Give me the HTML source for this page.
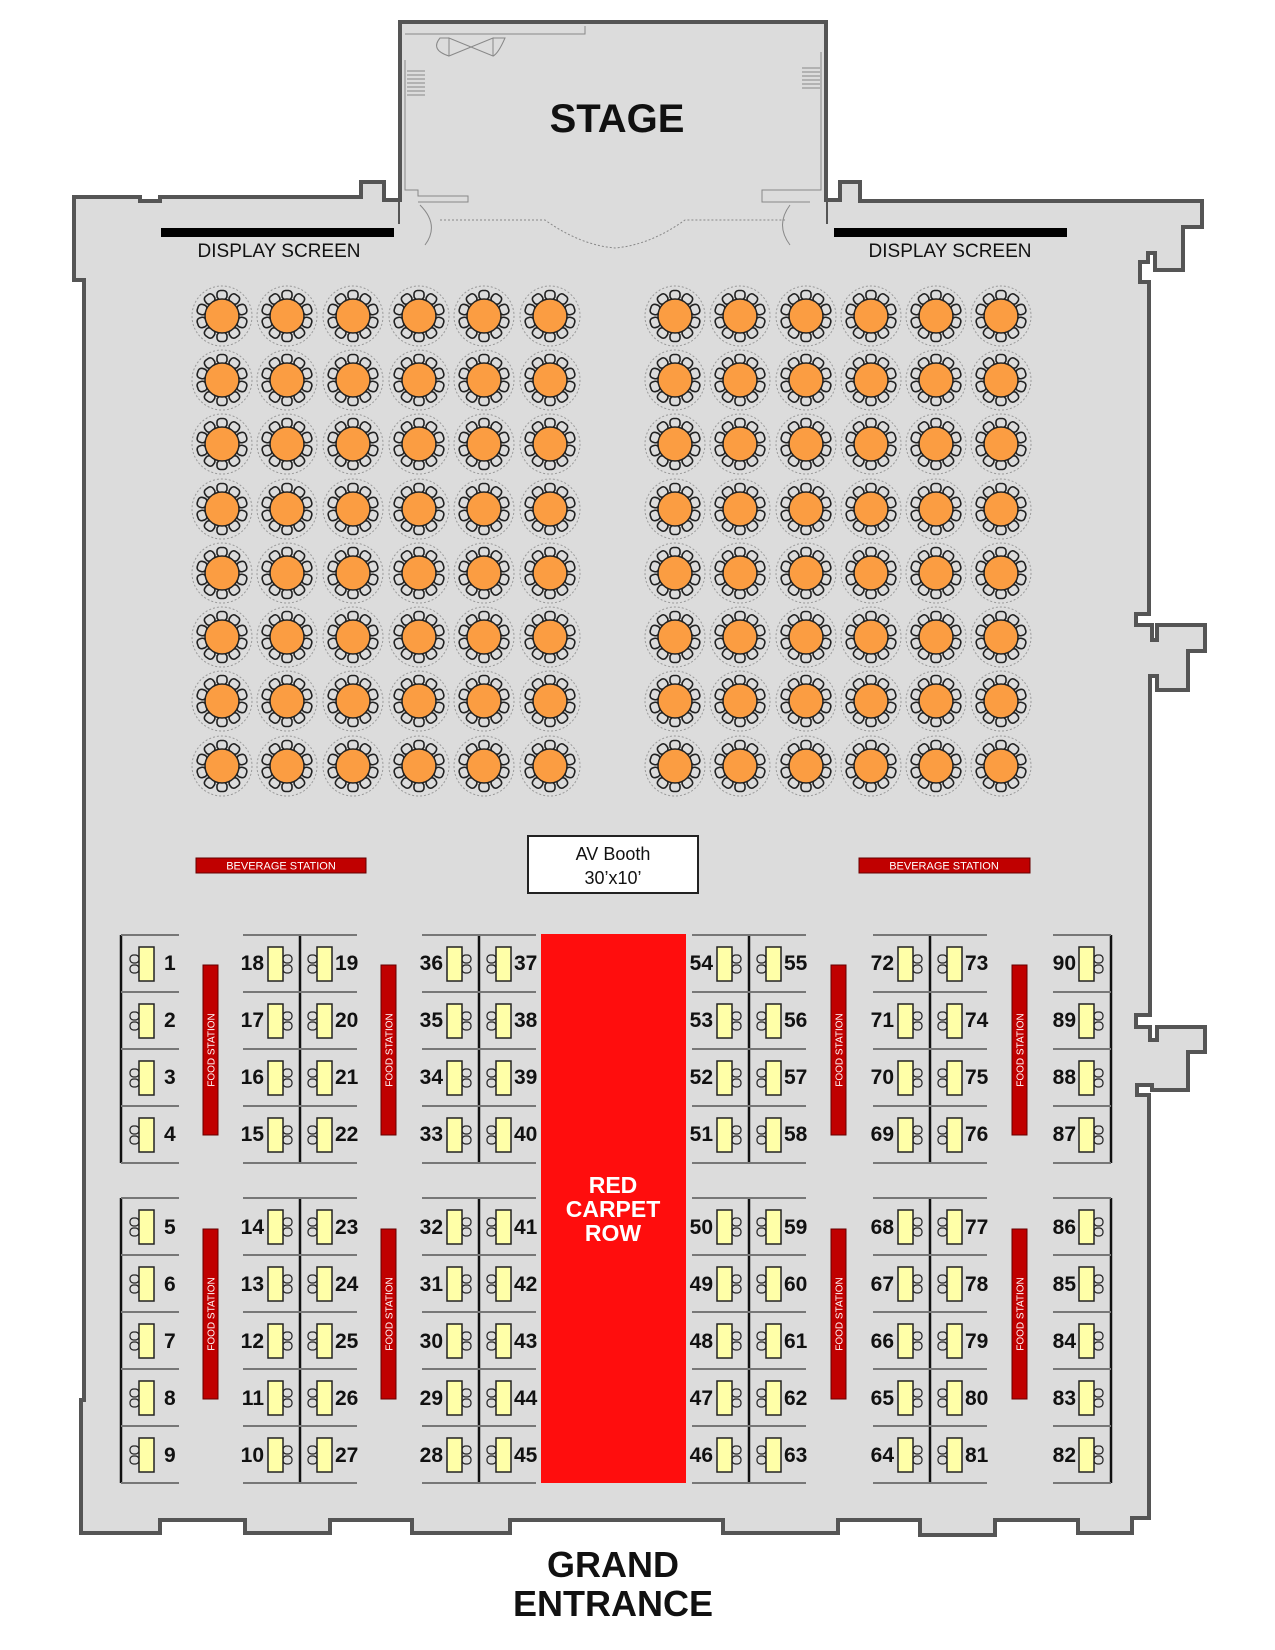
<!DOCTYPE html>
<html><head><meta charset="utf-8"><style>
html,body{margin:0;padding:0;background:#fff;width:1275px;height:1650px;overflow:hidden}
svg{display:block}
text{font-family:"Liberation Sans",sans-serif}
.n{font-size:21px;font-weight:bold;fill:#111}
.fs{font-size:10px;fill:#fff}
</style></head><body>
<svg id="s" width="1275" height="1650" viewBox="0 0 1275 1650" xmlns="http://www.w3.org/2000/svg">
<!-- hall -->
<path d="M74,197 L140,197 L140,201 L160,201 L160,197 L361,197 L361,182 L384,182 L384,200 L400,200 L400,222 L826,222 L826,200 L840,200 L840,182 L860,182 L860,201 L1148,201 L1148,201 L1202,201 L1202,227 L1183,227 L1183,270 L1155,270 L1155,253 L1148,253 L1148,262 L1140,262 L1140,282 L1149,282 L1149,614 L1136,614 L1136,625 L1152,625 L1152,640 L1157,640 L1157,625 L1205,625 L1205,651 L1188,651 L1188,690 L1157,690 L1157,676 L1150,676 L1150,1015 L1136,1015 L1136,1027 L1150,1027 L1150,1040 L1157,1040 L1157,1027 L1205,1027 L1205,1052 L1188,1052 L1188,1090 L1152,1090 L1152,1085 L1137,1085 L1137,1095 L1149,1095 L1149,1518 L1132,1518 L1132,1533 L1078,1533 L1078,1520 L995,1520 L995,1535 L920,1535 L920,1520 L838,1520 L838,1533 L723,1533 L723,1520 L510,1520 L510,1533 L412,1533 L412,1520 L330,1520 L330,1533 L245,1533 L245,1520 L160,1520 L160,1533 L81,1533 L81,1400 L84,1400 L84,280 L74,280 Z" fill="#dcdcdc" stroke="#555" stroke-width="4" stroke-linejoin="miter"/>
<!-- stage -->
<rect x="400" y="22" width="426" height="202" fill="#dcdcdc"/>
<path d="M400,202 L400,22 L826,22 L826,202" fill="none" stroke="#555" stroke-width="4"/>
<!-- stage details -->
<g fill="none" stroke="#888" stroke-width="1">
<path d="M405,34 L585,34 L585,26 M405,60 L405,190 L418,190 L418,196 L468,196 L468,202 L418,202"/>
<path d="M821,52 L821,190 L810,190 L762,190 L762,202 L810,202"/>
<path d="M449,56 L493,38 L493,56 L449,38 Z M449,56 Q430,50 440,38 L449,38 M493,38 L505,38 Q498,54 493,56"/>
<path d="M407,71 L425,71 M407,75 L425,75 M407,79 L425,79 M407,83 L425,83 M407,87 L425,87 M407,91 L425,91 M407,95 L425,95"/>
<path d="M802,68 L820,68 M802,72 L820,72 M802,76 L820,76 M802,80 L820,80 M802,84 L820,84 M802,88 L820,88"/>
<path stroke-dasharray="2,2" d="M440,220 L545,220 Q580,245 615,248 Q650,245 685,220 L785,220"/>
<path d="M420,205 Q440,225 425,245 M790,205 Q775,225 790,245"/>
</g>
<!-- screens -->
<rect x="161" y="228" width="233" height="9" fill="#000"/>
<rect x="834" y="228" width="233" height="9" fill="#000"/>
<text x="279" y="257" font-size="19" text-anchor="middle" fill="#111">DISPLAY SCREEN</text>
<text x="950" y="257" font-size="19" text-anchor="middle" fill="#111">DISPLAY SCREEN</text>
<text x="617" y="132" font-size="40" font-weight="bold" text-anchor="middle" fill="#111">STAGE</text>
<!-- beverage -->
<rect x="196" y="858" width="170" height="15" fill="#c00000" stroke="#600" stroke-width="1"/>
<rect x="859" y="858" width="171" height="15" fill="#c00000" stroke="#600" stroke-width="1"/>
<text x="281" y="869.5" font-size="11" text-anchor="middle" fill="#fff">BEVERAGE STATION</text>
<text x="944" y="869.5" font-size="11" text-anchor="middle" fill="#fff">BEVERAGE STATION</text>
<!-- AV -->
<rect x="528" y="836" width="170" height="57" fill="#fff" stroke="#222" stroke-width="2"/>
<text x="613" y="860" font-size="18" text-anchor="middle" fill="#111">AV Booth</text>
<text x="613" y="884" font-size="18" text-anchor="middle" fill="#111">30’x10’</text>
<!-- red carpet -->
<rect x="541" y="934" width="145" height="549" fill="#ff0d0d"/>
<text x="613" y="1193" font-size="23" font-weight="bold" text-anchor="middle" fill="#fff">RED</text>
<text x="613" y="1217" font-size="23" font-weight="bold" text-anchor="middle" fill="#fff">CARPET</text>
<text x="613" y="1241" font-size="23" font-weight="bold" text-anchor="middle" fill="#fff">ROW</text>
<!-- food stations -->
<g fill="#c00000" stroke="#600" stroke-width="1">
<rect x="203" y="965" width="15" height="170"/><rect x="381" y="965" width="15" height="170"/>
<rect x="831" y="965" width="15" height="170"/><rect x="1012" y="965" width="15" height="170"/>
<rect x="203" y="1229" width="15" height="170"/><rect x="381" y="1229" width="15" height="170"/>
<rect x="831" y="1229" width="15" height="170"/><rect x="1012" y="1229" width="15" height="170"/>
</g>
<g class="fs" text-anchor="middle">
<text transform="translate(214.5,1050) rotate(-90)">FOOD STATION</text>
<text transform="translate(392.5,1050) rotate(-90)">FOOD STATION</text>
<text transform="translate(842.5,1050) rotate(-90)">FOOD STATION</text>
<text transform="translate(1023.5,1050) rotate(-90)">FOOD STATION</text>
<text transform="translate(214.5,1314) rotate(-90)">FOOD STATION</text>
<text transform="translate(392.5,1314) rotate(-90)">FOOD STATION</text>
<text transform="translate(842.5,1314) rotate(-90)">FOOD STATION</text>
<text transform="translate(1023.5,1314) rotate(-90)">FOOD STATION</text>
</g>
<g id="shapes"></g>
<!-- numbers -->
<g class="n">
<text x="164" y="970">1</text><text x="164" y="1027">2</text><text x="164" y="1084">3</text><text x="164" y="1141">4</text>
<text x="164" y="1234">5</text><text x="164" y="1291">6</text><text x="164" y="1348">7</text><text x="164" y="1405">8</text><text x="164" y="1462">9</text>
</g>
<g class="n" text-anchor="end">
<text x="264" y="970">18</text><text x="264" y="1027">17</text><text x="264" y="1084">16</text><text x="264" y="1141">15</text>
<text x="264" y="1234">14</text><text x="264" y="1291">13</text><text x="264" y="1348">12</text><text x="264" y="1405">11</text><text x="264" y="1462">10</text>
<text x="443" y="970">36</text><text x="443" y="1027">35</text><text x="443" y="1084">34</text><text x="443" y="1141">33</text>
<text x="443" y="1234">32</text><text x="443" y="1291">31</text><text x="443" y="1348">30</text><text x="443" y="1405">29</text><text x="443" y="1462">28</text>
<text x="713" y="970">54</text><text x="713" y="1027">53</text><text x="713" y="1084">52</text><text x="713" y="1141">51</text>
<text x="713" y="1234">50</text><text x="713" y="1291">49</text><text x="713" y="1348">48</text><text x="713" y="1405">47</text><text x="713" y="1462">46</text>
<text x="894" y="970">72</text><text x="894" y="1027">71</text><text x="894" y="1084">70</text><text x="894" y="1141">69</text>
<text x="894" y="1234">68</text><text x="894" y="1291">67</text><text x="894" y="1348">66</text><text x="894" y="1405">65</text><text x="894" y="1462">64</text>
<text x="1076" y="970">90</text><text x="1076" y="1027">89</text><text x="1076" y="1084">88</text><text x="1076" y="1141">87</text>
<text x="1076" y="1234">86</text><text x="1076" y="1291">85</text><text x="1076" y="1348">84</text><text x="1076" y="1405">83</text><text x="1076" y="1462">82</text>
</g>
<g class="n">
<text x="335" y="970">19</text><text x="335" y="1027">20</text><text x="335" y="1084">21</text><text x="335" y="1141">22</text>
<text x="335" y="1234">23</text><text x="335" y="1291">24</text><text x="335" y="1348">25</text><text x="335" y="1405">26</text><text x="335" y="1462">27</text>
<text x="514" y="970">37</text><text x="514" y="1027">38</text><text x="514" y="1084">39</text><text x="514" y="1141">40</text>
<text x="514" y="1234">41</text><text x="514" y="1291">42</text><text x="514" y="1348">43</text><text x="514" y="1405">44</text><text x="514" y="1462">45</text>
<text x="784" y="970">55</text><text x="784" y="1027">56</text><text x="784" y="1084">57</text><text x="784" y="1141">58</text>
<text x="784" y="1234">59</text><text x="784" y="1291">60</text><text x="784" y="1348">61</text><text x="784" y="1405">62</text><text x="784" y="1462">63</text>
<text x="965" y="970">73</text><text x="965" y="1027">74</text><text x="965" y="1084">75</text><text x="965" y="1141">76</text>
<text x="965" y="1234">77</text><text x="965" y="1291">78</text><text x="965" y="1348">79</text><text x="965" y="1405">80</text><text x="965" y="1462">81</text>
</g>
<text x="613" y="1577" font-size="36" font-weight="bold" text-anchor="middle" fill="#111">GRAND</text>
<text x="613" y="1616" font-size="36" font-weight="bold" text-anchor="middle" fill="#111">ENTRANCE</text>
</svg>
<script>
var g=document.getElementById("shapes"),h="";
var cx=[222,287,353,419,484,550,675,740,806,871,936,1001],cy=[316,380,444,509,573,637,701,766];
cx.forEach(function(x){cy.forEach(function(y){
h+='<circle cx="'+x+'" cy="'+y+'" r="30" fill="none" stroke="#999" stroke-width="1" stroke-dasharray="2,2"/>';
for(var i=0;i<10;i++){var a=i*36+18,r=a*Math.PI/180,px=x+21*Math.cos(r),py=y+21*Math.sin(r);
h+='<rect x="'+(px-5)+'" y="'+(py-4.5)+'" width="10" height="9" rx="3.5" fill="#dcdcdc" stroke="#222" stroke-width="1.6" transform="rotate('+(a+90)+' '+px+' '+py+')"/>';}
h+='<circle cx="'+x+'" cy="'+y+'" r="17" fill="#fb9d42" stroke="#222" stroke-width="1.5"/>';
});});
var tops=[935,992,1049,1106,1198,1255,1312,1369,1426];
function tbl(rx,ry,chL){
 var s='';
 var chx=chL?rx-9:rx+15;
 s+='<rect x="'+chx+'" y="'+(ry+3)+'" width="9" height="8" rx="3.5" fill="#dcdcdc" stroke="#222" stroke-width="1.2"/>';
 s+='<rect x="'+chx+'" y="'+(ry+13)+'" width="9" height="8" rx="3.5" fill="#dcdcdc" stroke="#222" stroke-width="1.2"/>';
 s+='<rect x="'+rx+'" y="'+(ry-5)+'" width="15" height="34" fill="#ffffa8" stroke="#222" stroke-width="1.5"/>';
 return s;}
function hl(x1,x2,y){return '<line x1="'+x1+'" x2="'+x2+'" y1="'+y+'" y2="'+y+'" stroke="#777" stroke-width="2"/>';}
function vl(x,y1,y2){return '<line x1="'+x+'" x2="'+x+'" y1="'+y1+'" y2="'+y2+'" stroke="#111" stroke-width="2.5"/>';}
[[935,1163],[1198,1483]].forEach(function(b){
 h+=vl(121,b[0],b[1]);h+=vl(1111,b[0],b[1]);
 [300,479,749,930].forEach(function(d){h+=vl(d,b[0],b[1]);});
});
tops.forEach(function(t,i){
 var last=(i==3||i==8);
 var ys=[t]; if(last) ys.push(t+57);
 ys.forEach(function(y){
  h+=hl(121,179,y);h+=hl(1053,1111,y);
  [300,479,749,930].forEach(function(d){h+=hl(d-57,d+57,y);});
 });
 var ry=t+17;
 h+=tbl(139,ry,true);
 h+=tbl(1079,ry,false);
 [300,479,749,930].forEach(function(d){h+=tbl(d-32,ry,false);h+=tbl(d+17,ry,true);});
});
g.innerHTML=h;
</script>
</body></html>
